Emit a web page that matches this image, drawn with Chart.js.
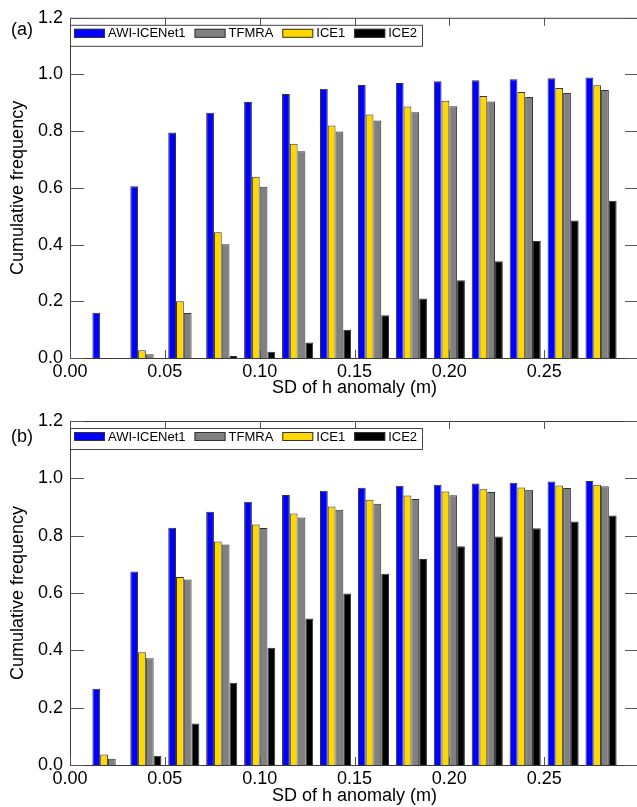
<!DOCTYPE html>
<html>
<head>
<meta charset="utf-8">
<script src="https://cdn.jsdelivr.net/npm/chart.js@4.4.0/dist/chart.umd.min.js"></script>
<style>
    html, body { margin: 0; padding: 0; background: #fff; width: 637px; height: 807px; overflow: hidden; }
    .panel { position: absolute; left: 0; width: 642px; }
    #wrapA { top: 0; height: 400px; }
    #wrapB { top: 400px; height: 407px; }
    .tag { position: absolute; left: 11px; font: 18px "Liberation Sans", Arial, sans-serif; color: #000; line-height: 18px; }
</style>
</head>
<body>
<div class="panel" id="wrapA"><canvas id="chartA" width="642" height="400"></canvas></div>
<div class="panel" id="wrapB"><canvas id="chartB" width="642" height="407"></canvas></div>
<div class="tag" style="top:20px">(a)</div>
<div class="tag" style="top:427px">(b)</div>

<script>
// ---- Data ----
const sdBins = [0.02, 0.04, 0.06, 0.08, 0.10, 0.12, 0.14, 0.16, 0.18, 0.20, 0.22, 0.24, 0.26, 0.28];
const xTickValues = [0.00, 0.05, 0.10, 0.15, 0.20, 0.25];
const yTickValues = [0.0, 0.2, 0.4, 0.6, 0.8, 1.0, 1.2];

// panel (a)
const awiA   = [0.160, 0.606, 0.795, 0.865, 0.903, 0.931, 0.950, 0.963, 0.970, 0.976, 0.980, 0.983, 0.987, 0.989];
const tfmraA = [0.000, 0.013, 0.159, 0.401, 0.604, 0.729, 0.799, 0.838, 0.867, 0.888, 0.905, 0.921, 0.935, 0.945];
const ice1A  = [0.000, 0.027, 0.200, 0.444, 0.639, 0.756, 0.820, 0.859, 0.887, 0.907, 0.924, 0.938, 0.952, 0.962];
const ice2A  = [0.000, 0.000, 0.000, 0.007, 0.022, 0.055, 0.100, 0.151, 0.210, 0.274, 0.341, 0.413, 0.485, 0.555];

// panel (b)
const awiB   = [0.266, 0.675, 0.828, 0.883, 0.918, 0.942, 0.957, 0.967, 0.974, 0.978, 0.982, 0.985, 0.989, 0.991];
const tfmraB = [0.022, 0.372, 0.647, 0.769, 0.827, 0.863, 0.890, 0.911, 0.928, 0.941, 0.952, 0.960, 0.966, 0.972];
const ice1B  = [0.037, 0.393, 0.656, 0.780, 0.839, 0.877, 0.902, 0.925, 0.940, 0.954, 0.962, 0.968, 0.975, 0.978];
const ice2B  = [0.000, 0.032, 0.145, 0.287, 0.409, 0.511, 0.598, 0.667, 0.719, 0.763, 0.797, 0.826, 0.849, 0.870];

// legend order
const seriesNames  = ['AWI-ICENet1', 'TFMRA', 'ICE1', 'ICE2'];
const seriesColors = ['#0000ff', '#808080', '#ffd700', '#000000'];
// order of the bars inside each group (blue, yellow, gray, black)
const barOrder = [0, 2, 1, 3];

const FONT = '"Liberation Sans", Arial, Helvetica, sans-serif';

// ---- Plugin: frame + inward ticks ----
const frameTicks = {
    id: 'frameTicks',
    afterDatasetsDraw(chart) {
        const { ctx, chartArea: a, scales: { x, y } } = chart;
        ctx.save();
        ctx.strokeStyle = '#3a3a3a';
        ctx.lineWidth = 1;
        ctx.beginPath();
        ctx.moveTo(a.left + 0.5, a.top + 0.5);
        ctx.lineTo(a.right, a.top + 0.5);
        ctx.moveTo(a.left + 0.5, a.top);
        ctx.lineTo(a.left + 0.5, a.bottom + 0.5);
        ctx.lineTo(a.right, a.bottom + 0.5);
        ctx.stroke();

        ctx.strokeStyle = '#555';
        ctx.beginPath();
        xTickValues.forEach(v => {
            const px = Math.round(x.getPixelForValue(v)) + 0.5;
            ctx.moveTo(px, a.bottom); ctx.lineTo(px, a.bottom - 8);
            ctx.moveTo(px, a.top); ctx.lineTo(px, a.top + 8);
        });
        yTickValues.forEach(v => {
            const py = Math.round(y.getPixelForValue(v)) + 0.5;
            ctx.moveTo(a.left, py); ctx.lineTo(a.left + 14, py);
            ctx.moveTo(a.right, py); ctx.lineTo(a.right - 14, py);
        });
        ctx.stroke();
        ctx.restore();
    }
};

// ---- Plugin: boxed legend inside plot ----
const boxLegend = {
    id: 'boxLegend',
    afterDraw(chart) {
        const { ctx, chartArea: a } = chart;
        const top = a.top + 7, h = 21;
        const mid = top + 8.5;
        ctx.save();
        ctx.font = '13px ' + FONT;
        ctx.textBaseline = 'middle';
        let x = a.left + 4;
        seriesNames.forEach((name, i) => {
            ctx.fillStyle = seriesColors[i];
            ctx.fillRect(x, mid - 4.5, 31, 9);
            ctx.strokeStyle = '#333';
            ctx.lineWidth = 1;
            ctx.strokeRect(x + 0.5, mid - 4.5 + 0.5, 30, 8);
            x += 34;
            ctx.fillStyle = '#000';
            ctx.fillText(name, x, mid + 0.5);
            x += ctx.measureText(name).width + 9;
        });
        ctx.strokeStyle = '#444';
        ctx.strokeRect(a.left + 0.5, top + 0.5, Math.round(x - a.left - 4), h);
        ctx.restore();
    }
};

function makeChart(canvasId, values, padTop, titlePadBottom) {
    const datasets = barOrder.map(i => ({
        label: seriesNames[i],
        data: sdBins.map((b, k) => ({ x: b, y: values[i][k] })),
        backgroundColor: seriesColors[i],
        borderColor: '#333',
        borderWidth: 1,
        categoryPercentage: 0.82,
        barPercentage: 1.0
    }));

    return new Chart(document.getElementById(canvasId), {
        type: 'bar',
        data: { datasets },
        options: {
            responsive: false,
            animation: false,
            layout: { padding: { top: padTop, left: 0, right: 3, bottom: 0 } },
            plugins: { legend: { display: false }, tooltip: { enabled: false } },
            scales: {
                x: {
                    type: 'linear',
                    min: 0,
                    max: 0.30,
                    offset: false,
                    grid: { display: false, drawTicks: false, offset: false },
                    border: { display: false },
                    afterBuildTicks: s => { s.ticks = xTickValues.map(v => ({ value: v })); },
                    afterFit: s => { s.height = 42; },
                    ticks: {
                        padding: 3,
                        color: '#000',
                        maxRotation: 0,
                        autoSkip: false,
                        font: { family: FONT, size: 18 },
                        callback: v => Number(v).toFixed(2)
                    },
                    title: {
                        display: true,
                        text: 'SD of h anomaly (m)',
                        color: '#000',
                        font: { family: FONT, size: 18 },
                        padding: { top: 0, bottom: titlePadBottom }
                    }
                },
                y: {
                    min: 0,
                    max: 1.2,
                    grid: { display: false, drawTicks: false },
                    border: { display: false },
                    afterBuildTicks: s => { s.ticks = yTickValues.map(v => ({ value: v })); },
                    afterFit: s => { s.width = 70; },
                    ticks: {
                        padding: 7,
                        color: '#000',
                        font: { family: FONT, size: 18 },
                        callback: v => Number(v).toFixed(1)
                    },
                    title: {
                        display: true,
                        text: 'Cumulative frequency',
                        color: '#000',
                        font: { family: FONT, size: 18 },
                        padding: { top: 7, bottom: 0 }
                    }
                }
            }
        },
        plugins: [frameTicks, boxLegend]
    });
}

makeChart('chartA', [awiA, tfmraA, ice1A, ice2A], 13, 1);
makeChart('chartB', [awiB, tfmraB, ice1B, ice2B], 21, 0);
</script>
</body>
</html>
